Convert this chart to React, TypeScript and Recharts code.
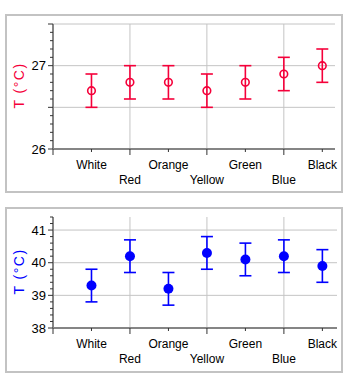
import React from 'react';
import { ScatterChart, Scatter, XAxis, YAxis, CartesianGrid, ErrorBar, Label } from 'recharts';

const categories = ['White', 'Red', 'Orange', 'Yellow', 'Green', 'Blue', 'Black'];
const categoryPositions = [1, 2, 3, 4, 5, 6, 7];
const xTicks = [0, 1, 2, 3, 4, 5, 6, 7];
const xGridValues = [2, 4, 6];

const topValues = [26.7, 26.8, 26.8, 26.7, 26.8, 26.9, 27.0];
const topErrors = [0.2, 0.2, 0.2, 0.2, 0.2, 0.2, 0.2];
const topYTicks = [26, 26.1, 26.2, 26.3, 26.4, 26.5, 26.6, 26.7, 26.8, 26.9, 27, 27.1, 27.2, 27.3, 27.4, 27.5];
const topYMajor = [26, 26.5, 27, 27.5];
const topYLabels = [26, 27];
const topYGrid = [26.5, 27, 27.5];

const bottomValues = [39.3, 40.2, 39.2, 40.3, 40.1, 40.2, 39.9];
const bottomErrors = [0.5, 0.5, 0.5, 0.5, 0.5, 0.5, 0.5];
const bottomYTicks = [38, 38.2, 38.4, 38.6, 38.8, 39, 39.2, 39.4, 39.6, 39.8, 40, 40.2, 40.4, 40.6, 40.8, 41, 41.2, 41.4];
const bottomYMajor = [38, 39, 40, 41];
const bottomYLabels = [38, 39, 40, 41];
const bottomYGrid = [39, 40, 41];

const yTitle = 'T (°C)';

const RED = '#f5003a';
const BLUE = '#0000ff';
const FONT = '"Liberation Sans", Arial, sans-serif';
const AXIS = '#858585';
const GRID = '#c4c4c4';

const near = (a: number, list: number[]) => list.some((b) => Math.abs(a - b) < 1e-6);

const XTick = (props: any) => {
  const { x, y, payload } = props;
  const v = payload.value as number;
  const major = Math.round(v) % 2 === 0;
  const idx = categoryPositions.indexOf(Math.round(v));
  const upper = Math.round(v) % 2 === 1;
  return (
    <g>
      <line x1={x} y1={y} x2={x} y2={y + (major ? 6 : 3)} stroke="#333" strokeWidth={1} />
      {idx >= 0 && (
        <text x={x} y={y + (upper ? 19.5 : 34.5)} textAnchor="middle" fontFamily={FONT} fontSize={12} fill="#000">
          {categories[idx]}
        </text>
      )}
    </g>
  );
};

const makeYTick = (major: number[], labels: number[]) => (props: any) => {
  const { x, y, payload } = props;
  const v = payload.value as number;
  const isMajor = near(v, major);
  const isLabel = near(v, labels);
  return (
    <g>
      <line x1={x} y1={y} x2={x - (isMajor ? 5 : 3)} y2={y} stroke="#333" strokeWidth={1} />
      {isLabel && (
        <text x={x - 7} y={y + 4.5} textAnchor="end" fontFamily={FONT} fontSize={13} fill="#000">
          {String(Math.round(v))}
        </text>
      )}
    </g>
  );
};

const makeYLabel = (color: string) => (props: any) => {
  const vb = props.viewBox || { x: 0, y: 0, width: 0, height: 0 };
  const cx = 18.5;
  const cy = vb.y + vb.height / 2 - 1;
  return (
    <text
      x={cx}
      y={cy}
      transform={`rotate(-90 ${cx} ${cy})`}
      textAnchor="middle"
      dominantBaseline="central"
      fontFamily={FONT}
      fontSize={14}
      letterSpacing={1.5}
      fill={color}
    >
      {yTitle}
    </text>
  );
};

const OpenCircle = (props: any) => {
  const { cx, cy } = props;
  return <circle cx={cx} cy={cy} r={3.8} fill="none" stroke={RED} strokeWidth={1.6} />;
};

const FilledCircle = (props: any) => {
  const { cx, cy } = props;
  return <circle cx={cx} cy={cy} r={5} fill={BLUE} stroke="none" />;
};

const topData = categoryPositions.map((x, i) => ({ x, y: topValues[i], err: topErrors[i] }));
const bottomData = categoryPositions.map((x, i) => ({ x, y: bottomValues[i], err: bottomErrors[i] }));

const frame: React.CSSProperties = {
  position: 'absolute',
  border: '2px solid #c3c3c3',
  boxSizing: 'border-box',
  background: '#fff',
};

export default function App() {
  return (
    <div style={{ position: 'absolute', left: 0, top: 0, width: 349, height: 385, background: '#fff', overflow: 'hidden' }}>
      <div style={{ ...frame, left: 5, top: 14, width: 338, height: 179 }} />
      <div style={{ ...frame, left: 5, top: 207, width: 338, height: 166 }} />

      <div style={{ position: 'absolute', left: 0, top: 0 }}>
        <ScatterChart width={349} height={200} margin={{ top: 24, right: 14, bottom: 11, left: 13 }}>
          <CartesianGrid stroke={GRID} horizontalValues={topYGrid} verticalValues={xGridValues} />
          <XAxis
            type="number"
            dataKey="x"
            domain={[0, 7.33]}
            ticks={xTicks}
            interval={0}
            allowDataOverflow
            height={40}
            tickSize={0}
            tickMargin={0}
            tickLine={false}
            tick={<XTick />}
            axisLine={{ stroke: AXIS, strokeWidth: 2 }}
          />
          <YAxis
            type="number"
            dataKey="y"
            domain={[26, 27.5]}
            ticks={topYTicks}
            interval={0}
            allowDataOverflow
            width={40}
            tickSize={0}
            tickMargin={0}
            tickLine={false}
            tick={makeYTick(topYMajor, topYLabels)}
            axisLine={{ stroke: AXIS, strokeWidth: 2 }}
          >
            <Label content={makeYLabel(RED)} />
          </YAxis>
          <Scatter data={topData} dataKey="y" shape={<OpenCircle />} isAnimationActive={false}>
            <ErrorBar dataKey="err" direction="y" width={6} stroke={RED} strokeWidth={1.6} isAnimationActive={false} />
          </Scatter>
        </ScatterChart>
      </div>

      <div style={{ position: 'absolute', left: 0, top: 200 }}>
        <ScatterChart width={349} height={185} margin={{ top: 17, right: 12, bottom: 17, left: 13 }}>
          <CartesianGrid stroke={GRID} horizontalValues={bottomYGrid} verticalValues={xGridValues} />
          <XAxis
            type="number"
            dataKey="x"
            domain={[0, 7.38]}
            ticks={xTicks}
            interval={0}
            allowDataOverflow
            height={40}
            tickSize={0}
            tickMargin={0}
            tickLine={false}
            tick={<XTick />}
            axisLine={{ stroke: AXIS, strokeWidth: 2 }}
          />
          <YAxis
            type="number"
            dataKey="y"
            domain={[38, 41.4]}
            ticks={bottomYTicks}
            interval={0}
            allowDataOverflow
            width={40}
            tickSize={0}
            tickMargin={0}
            tickLine={false}
            tick={makeYTick(bottomYMajor, bottomYLabels)}
            axisLine={{ stroke: AXIS, strokeWidth: 2 }}
          >
            <Label content={makeYLabel(BLUE)} />
          </YAxis>
          <Scatter data={bottomData} dataKey="y" shape={<FilledCircle />} isAnimationActive={false}>
            <ErrorBar dataKey="err" direction="y" width={6} stroke={BLUE} strokeWidth={1.6} isAnimationActive={false} />
          </Scatter>
        </ScatterChart>
      </div>
    </div>
  );
}
